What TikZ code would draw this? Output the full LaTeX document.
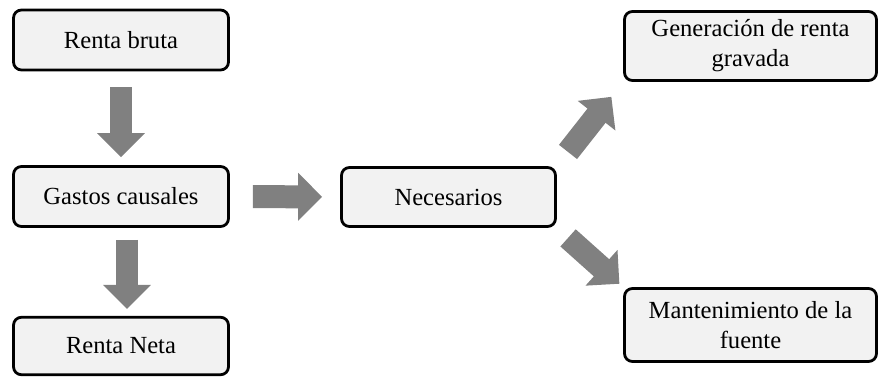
\documentclass[tikz,border=0pt]{standalone}
\usepackage{fontspec}
\setmainfont{Liberation Serif}
\usetikzlibrary{arrows.meta,positioning}

\begin{document}
\begin{tikzpicture}[
      x=0.02cm,
      y=-0.02cm,
      font=\fontsize{14}{17}\selectfont,
      concept/.style={
        draw=black, fill=gray!10, line width=1.6pt, rounded corners=4.5pt,
        align=center, inner sep=2pt
      },
      smallbox/.style={concept, minimum width=4.3cm, minimum height=1.2cm},
      widebox/.style={concept, minimum width=5.04cm, minimum height=1.42cm},
      flow/.style={line width=0.46cm, draw=gray,
        -{Triangle[width=0.93cm, length=0.48cm]}}
    ]
    \useasboundingbox (0,0) rectangle (879,378);

    \node[smallbox] (rb) at (121,40) {Renta bruta};
    \node[smallbox] (gc) at (121,196.5) {Gastos causales};
    \node[smallbox, minimum height=1.15cm] (rn) at (121,346) {Renta Neta};

    \node[smallbox, minimum width=4.28cm, minimum height=1.18cm] (nec) at (448.5,197)
      {Necesarios};

    \node[widebox, minimum height=1.38cm] (gen) at (750.5,46)
      {Generación de renta\\gravada};
    \node[widebox, minimum height=1.46cm] (mant) at (750.5,325)
      {Mantenimiento de la\\fuente};

    \foreach \a/\b/\s/\e in {rb.south/gc.north/0.32/0.16,
                             gc.east/nec.west/0.46/0.36,
                             nec.north east/gen.south west/0.36/0.38,
                             nec.south east/mant.north west/0.30/0.10}
      \draw[flow, shorten <=\s cm, shorten >=\e cm] (\a) -- (\b);
    \draw[flow, shorten <=0.24cm, shorten >=0.14cm]
      ([xshift=0.12cm]gc.south) -- ([xshift=0.12cm]rn.north);
  \end{tikzpicture}
\end{document}
